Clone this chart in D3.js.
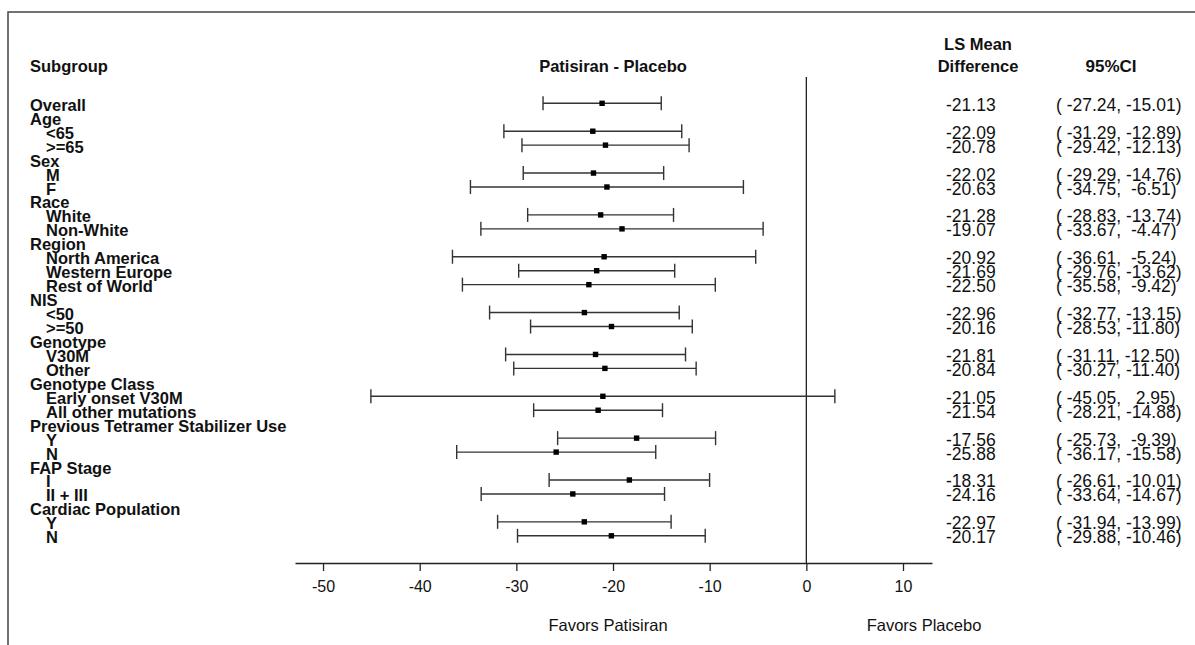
<!DOCTYPE html>
<html lang="en">
<head>
<meta charset="UTF-8">
<title>Forest plot</title>
<script src="https://cdn.jsdelivr.net/npm/d3@7"></script>
<style>
  body { margin: 0; background: #fff; }
  text { font-family: "Liberation Sans", Arial, sans-serif; fill: #111; }
  .lbl { font-size: 16.5px; font-weight: bold; }
  .hdr { font-size: 16.5px; font-weight: bold; }
  .num { font-size: 17.5px; white-space: pre; }
  .axis text { font-size: 16px; fill: #111; }
  .axis path, .axis line { stroke: #222; stroke-width: 1.3; }
</style>
</head>
<body>
<div id="chart"></div>
<script>
var width = 1195, height = 645;

// rows of the table, top to bottom
var subgroups = ["Overall","Age","<65",">=65","Sex","M","F","Race","White","Non-White",
  "Region","North America","Western Europe","Rest of World","NIS","<50",">=50",
  "Genotype","V30M","Other","Genotype Class","Early onset V30M","All other mutations",
  "Previous Tetramer Stabilizer Use","Y","N","FAP Stage","I","II + III",
  "Cardiac Population","Y","N"];
var indent = [0,0,1,1,0,1,1,0,1,1,0,1,1,1,0,1,1,0,1,1,0,1,1,0,1,1,0,1,1,0,1,1];
var lsMean = [-21.13,null,-22.09,-20.78,null,-22.02,-20.63,null,-21.28,-19.07,
  null,-20.92,-21.69,-22.50,null,-22.96,-20.16,null,-21.81,-20.84,null,-21.05,-21.54,
  null,-17.56,-25.88,null,-18.31,-24.16,null,-22.97,-20.17];
var ciLow = [-27.24,null,-31.29,-29.42,null,-29.29,-34.75,null,-28.83,-33.67,
  null,-36.61,-29.76,-35.58,null,-32.77,-28.53,null,-31.11,-30.27,null,-45.05,-28.21,
  null,-25.73,-36.17,null,-26.61,-33.64,null,-31.94,-29.88];
var ciHigh = [-15.01,null,-12.89,-12.13,null,-14.76,-6.51,null,-13.74,-4.47,
  null,-5.24,-13.62,-9.42,null,-13.15,-11.80,null,-12.50,-11.40,null,2.95,-14.88,
  null,-9.39,-15.58,null,-10.01,-14.67,null,-13.99,-10.46];
var ticks = [-50,-40,-30,-20,-10,0,10];
var xlim = [-52.9, 13];

var rows = subgroups.map(function(s, i){
  return {i: i, label: s, indent: indent[i], est: lsMean[i], lo: ciLow[i], hi: ciHigh[i]};
});
var data = rows.filter(function(d){ return d.est !== null; });

var svg = d3.select('#chart').append('svg')
  .attr('width', width).attr('height', height);

// frame
svg.append('rect')
  .attr('x', 8).attr('y', 12).attr('width', 1300).attr('height', 800)
  .attr('fill', 'none').attr('stroke', '#444').attr('stroke-width', 1.5);

var xScale = d3.scaleLinear().domain(xlim).range([295, 932]);
var yScale = d3.scaleLinear().domain([0, subgroups.length - 1]).range([103.3, 535.8]);
var axisY = 563;

function pad(v, n){
  var s = v.toFixed(2);
  while (s.length < n) s = ' ' + s;
  return s;
}

// headers
svg.append('text').attr('class', 'hdr').attr('x', 30).attr('y', 72).text('Subgroup');
svg.append('text').attr('class', 'hdr').attr('x', 613).attr('y', 72)
  .attr('text-anchor', 'middle').text('Patisiran - Placebo');
svg.append('text').attr('class', 'hdr').attr('x', 978).attr('y', 50)
  .attr('text-anchor', 'middle').text('LS Mean');
svg.append('text').attr('class', 'hdr').attr('x', 978).attr('y', 72)
  .attr('text-anchor', 'middle').text('Difference');
svg.append('text').attr('class', 'hdr').attr('x', 1111).attr('y', 72)
  .attr('text-anchor', 'middle').style('font-size', '17px').text('95%CI');

// subgroup labels
svg.selectAll('.sg').data(rows).enter().append('text')
  .attr('class', 'lbl sg')
  .attr('x', function(d){ return d.indent ? 46 : 30; })
  .attr('y', function(d){ return yScale(d.i) + 7.5; })
  .text(function(d){ return d.label; });

// zero line
svg.append('line')
  .attr('x1', xScale(0)).attr('x2', xScale(0))
  .attr('y1', 77).attr('y2', axisY)
  .attr('stroke', '#222').attr('stroke-width', 1.3);

// whiskers
var g = svg.selectAll('.ci').data(data).enter().append('g').attr('class', 'ci');
g.append('line')
  .attr('x1', function(d){ return xScale(d.lo); })
  .attr('x2', function(d){ return xScale(d.hi); })
  .attr('y1', function(d){ return yScale(d.i); })
  .attr('y2', function(d){ return yScale(d.i); })
  .attr('stroke', '#333').attr('stroke-width', 1.4);
['lo', 'hi'].forEach(function(k){
  g.append('line')
    .attr('x1', function(d){ return xScale(d[k]); })
    .attr('x2', function(d){ return xScale(d[k]); })
    .attr('y1', function(d){ return yScale(d.i) - 7; })
    .attr('y2', function(d){ return yScale(d.i) + 7; })
    .attr('stroke', '#333').attr('stroke-width', 1.4);
});
g.append('rect')
  .attr('x', function(d){ return xScale(d.est) - 2.7; })
  .attr('y', function(d){ return yScale(d.i) - 2.7; })
  .attr('width', 5.4).attr('height', 5.4)
  .attr('fill', '#000');

// estimate and CI columns
svg.selectAll('.est').data(data).enter().append('text')
  .attr('class', 'num est')
  .attr('x', 946)
  .attr('y', function(d){ return yScale(d.i) + 7.5; })
  .text(function(d){ return d.est.toFixed(2); });
svg.selectAll('.cit').data(data).enter().append('text')
  .attr('class', 'num cit')
  .attr('x', 1056)
  .attr('y', function(d){ return yScale(d.i) + 7.5; })
  .text(function(d){ return '(' + pad(d.lo, 7) + ',' + pad(d.hi, 7) + ')'; });

// x axis
var xAxis = d3.axisBottom(xScale).tickValues(ticks).tickSize(8).tickSizeOuter(0)
  .tickFormat(function(d){ return String(d); }).tickPadding(10);
svg.append('g').attr('class', 'axis')
  .attr('transform', 'translate(0,' + axisY + ')')
  .call(xAxis);

svg.append('text').attr('x', 608).attr('y', 631).attr('text-anchor', 'middle')
  .style('font-size', '16.5px').text('Favors Patisiran');
svg.append('text').attr('x', 924).attr('y', 631).attr('text-anchor', 'middle')
  .style('font-size', '16.5px').text('Favors Placebo');
</script>
</body>
</html>
